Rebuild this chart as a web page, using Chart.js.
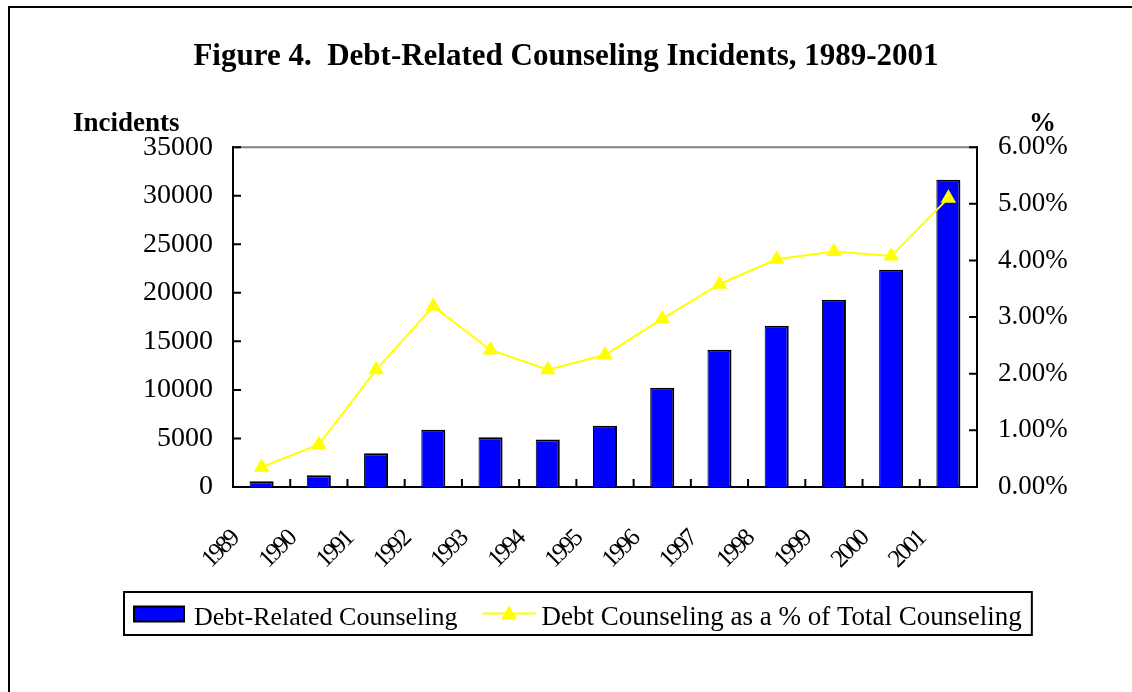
<!DOCTYPE html>
<html>
<head>
<meta charset="utf-8">
<script src="https://cdn.jsdelivr.net/npm/chart.js@4.4.1/dist/chart.umd.min.js"></script>
<style>
  html, body { margin: 0; padding: 0; background: #fff; }
</style>
</head>
<body>
<canvas id="combo-chart" width="1132" height="692"></canvas>
<script>
const years = ['1989', '1990', '1991', '1992', '1993', '1994', '1995', '1996', '1997', '1998', '1999', '2000', '2001'];
const incidents = [600, 1200, 3470, 5900, 5120, 4880, 6320, 10230, 14140, 16610, 19290, 22380, 31640];
const debtPct = [0.35, 0.75, 2.07, 3.19, 2.42, 2.07, 2.33, 2.97, 3.58, 4.02, 4.16, 4.08, 5.10];
const seriesNames = ['Debt-Related Counseling', 'Debt Counseling as a % of Total Counseling'];

const serif = 'Liberation Serif';

// frame, inward tick marks, axis captions and the boxed legend
const decor = {
    id: 'decor',
    beforeDraw(chart) {
        const ctx = chart.ctx;
        ctx.save();
        ctx.fillStyle = '#fff';
        ctx.fillRect(0, 0, chart.width, chart.height);
        ctx.restore();
    },
    afterDraw(chart) {
        const { ctx, chartArea: a, scales } = chart;
        ctx.save();

        // outer frame
        ctx.strokeStyle = '#000';
        ctx.lineWidth = 2;
        ctx.beginPath();
        ctx.moveTo(9, chart.height);
        ctx.lineTo(9, 7);
        ctx.lineTo(chart.width, 7);
        ctx.stroke();

        // top edge of plot
        ctx.strokeStyle = '#808080';
        ctx.beginPath();
        ctx.moveTo(a.left, a.top);
        ctx.lineTo(a.right, a.top);
        ctx.stroke();

        // tick marks pointing inwards
        ctx.strokeStyle = '#000';
        ctx.beginPath();
        scales.y.ticks.forEach((t, i) => {
            const py = scales.y.getPixelForTick(i);
            ctx.moveTo(a.left, py);
            ctx.lineTo(a.left + 8, py);
        });
        scales.y1.ticks.forEach((t, i) => {
            const py = scales.y1.getPixelForTick(i);
            ctx.moveTo(a.right, py);
            ctx.lineTo(a.right - 8, py);
        });
        const step = (a.right - a.left) / years.length;
        for (let i = 1; i < years.length; i++) {
            const px = scales.x.getPixelForValue(i) - step / 2;
            ctx.moveTo(px, a.bottom);
            ctx.lineTo(px, a.bottom - 8);
        }
        ctx.stroke();

        // axis captions
        ctx.fillStyle = '#000';
        ctx.font = 'bold 27px "' + serif + '"';
        ctx.textBaseline = 'alphabetic';
        ctx.textAlign = 'left';
        ctx.fillText('Incidents', 73, 131);
        ctx.fillText('%', 1029, 131);

        // legend
        const ds = chart.data.datasets;
        const bar = ds[1], line = ds[0];
        const bx = 124, by = 592, bh = 43;
        const my = by + bh / 2;
        const x1 = bx + 70;
        ctx.font = '26px "' + serif + '"';
        const w1 = ctx.measureText(bar.label).width;
        const lx = x1 + w1 + 25;
        const x2 = lx + 59;
        ctx.font = '27px "' + serif + '"';
        const w2 = ctx.measureText(line.label).width;
        const bw = x2 + w2 + 10 - bx;

        ctx.lineWidth = 2;
        ctx.strokeStyle = '#000';
        ctx.strokeRect(bx, by, bw, bh);

        ctx.fillStyle = bar.backgroundColor;
        ctx.fillRect(bx + 10, my - 7, 50, 15);
        ctx.strokeRect(bx + 10, my - 7, 50, 15);

        ctx.strokeStyle = line.borderColor;
        ctx.beginPath();
        ctx.moveTo(lx, my);
        ctx.lineTo(lx + 53, my);
        ctx.stroke();
        ctx.fillStyle = line.backgroundColor;
        ctx.beginPath();
        ctx.moveTo(lx + 26.5, my - 8);
        ctx.lineTo(lx + 34.5, my + 6);
        ctx.lineTo(lx + 18.5, my + 6);
        ctx.closePath();
        ctx.fill();

        ctx.fillStyle = '#000';
        ctx.textBaseline = 'alphabetic';
        ctx.font = '26px "' + serif + '"';
        ctx.fillText(bar.label, x1, by + 33);
        ctx.font = '27px "' + serif + '"';
        ctx.fillText(line.label, x2, by + 33);

        ctx.restore();
    }
};

// year labels are set tight, like the original
function tightLabels(scale) {
    scale.height = 205;
    if (scale._tight) return;
    scale._tight = true;
    const orig = scale.drawLabels.bind(scale);
    scale.drawLabels = (area) => {
        const c = scale.ctx;
        c.save();
        c.letterSpacing = '-2.5px';
        orig(area);
        c.restore();
    };
}

const ctx = document.getElementById('combo-chart');
new Chart(ctx, {
    type: 'bar',
    data: {
        labels: years,
        datasets: [
            {
                type: 'line',
                label: seriesNames[1],
                data: debtPct,
                yAxisID: 'y1',
                order: 0,
                borderColor: '#FFFF00',
                backgroundColor: '#FFFF00',
                borderWidth: 2,
                tension: 0,
                pointStyle: 'triangle',
                pointRadius: 9,
                pointBorderWidth: 0,
                pointBackgroundColor: '#FFFF00'
            },
            {
                type: 'bar',
                label: seriesNames[0],
                data: incidents,
                yAxisID: 'y',
                order: 1,
                backgroundColor: '#0000FF',
                borderColor: '#000',
                borderWidth: { top: 2, right: 2, left: 1, bottom: 0 },
                borderSkipped: false,
                categoryPercentage: 1,
                barPercentage: 0.42
            }
        ]
    },
    options: {
        responsive: false,
        animation: false,
        layout: { padding: 0 },
        plugins: {
            legend: { display: false },
            tooltip: { enabled: false },
            title: {
                display: true,
                text: 'Figure 4.  Debt-Related Counseling Incidents, 1989-2001',
                color: '#000',
                font: { family: serif, size: 31, weight: 'bold' },
                padding: { top: 38, bottom: 72 }
            }
        },
        scales: {
            x: {
                grid: { display: false, drawTicks: false },
                border: { display: true, color: '#000', width: 2 },
                ticks: {
                    color: '#000',
                    font: { family: serif, size: 25 },
                    minRotation: 45,
                    maxRotation: 45,
                    autoSkip: false,
                    padding: 38,
                    labelOffset: -27
                },
                afterFit: tightLabels
            },
            y: {
                position: 'left',
                min: 0,
                max: 35000,
                grid: { display: false, drawTicks: false },
                border: { display: true, color: '#000', width: 2 },
                ticks: {
                    stepSize: 5000,
                    color: '#000',
                    font: { family: serif, size: 28 },
                    padding: 20,
                    callback: (v) => String(v)
                },
                afterFit(scale) { scale.width = 233; }
            },
            y1: {
                position: 'right',
                min: 0,
                max: 6,
                grid: { display: false, drawTicks: false },
                border: { display: true, color: '#000', width: 2 },
                ticks: {
                    stepSize: 1,
                    color: '#000',
                    font: { family: serif, size: 27 },
                    padding: 21,
                    callback: (v) => v.toFixed(2) + '%'
                },
                afterFit(scale) { scale.width = 155; }
            }
        }
    },
    plugins: [decor]
});
</script>
</body>
</html>
